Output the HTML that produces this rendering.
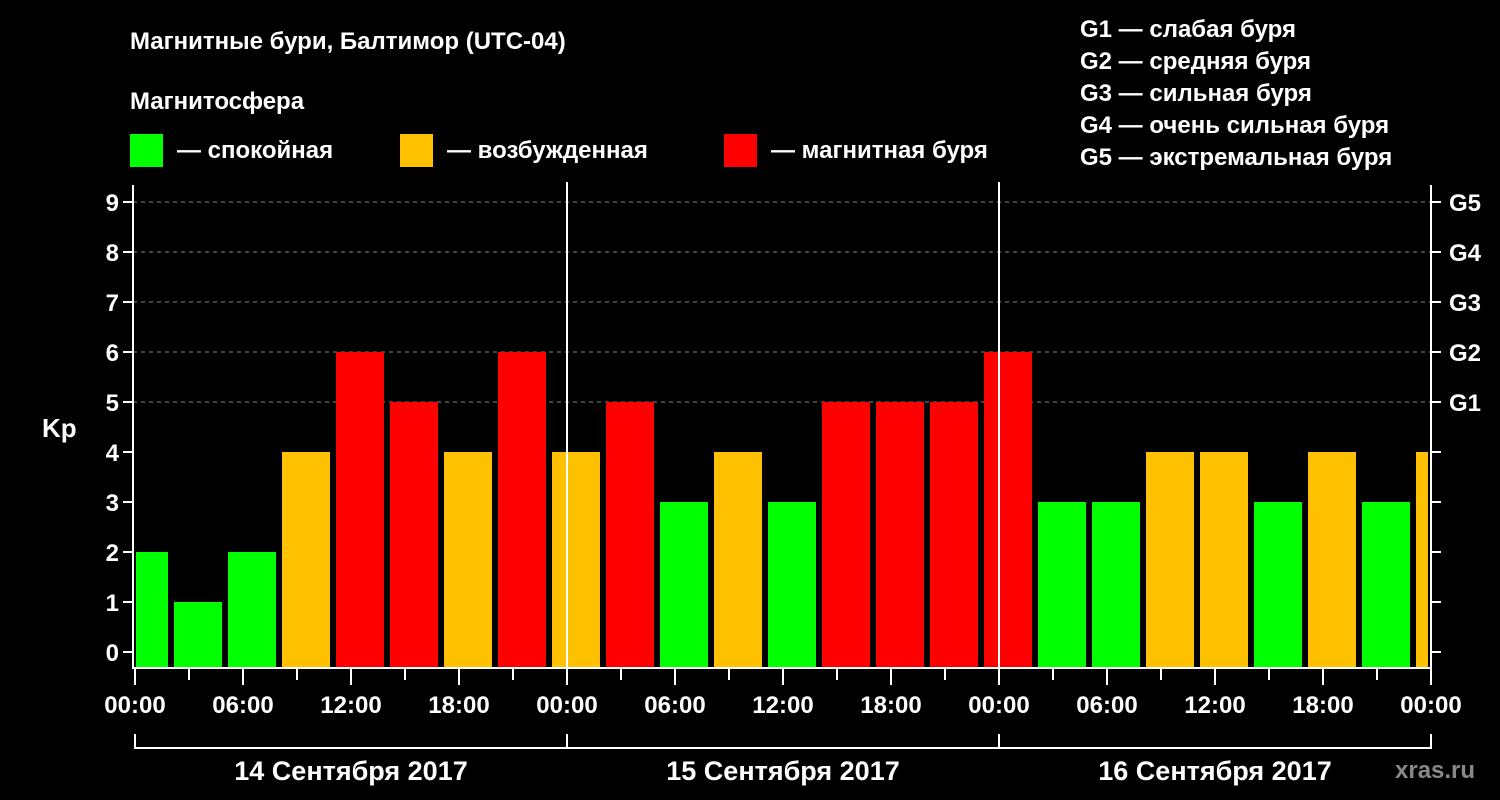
<!DOCTYPE html>
<html><head><meta charset="utf-8"><style>
body{margin:0;background:#000;}
svg{display:block;font-family:"Liberation Sans",sans-serif;font-weight:bold;}
</style></head><body>
<svg id="c" width="1500" height="800" viewBox="0 0 1500 800">
<rect width="1500" height="800" fill="#000"/>
<text x="130" y="49" fill="#fff" font-size="24">Магнитные бури, Балтимор (UTC-04)</text>
<text x="130" y="109" fill="#fff" font-size="24">Магнитосфера</text>
<g><rect x="130" y="134" width="33" height="33" fill="#00ff00"/><text x="177" y="158" fill="#fff" font-size="24">— спокойная</text></g>
<g><rect x="400" y="134" width="33" height="33" fill="#ffc000"/><text x="447" y="158" fill="#fff" font-size="24">— возбужденная</text></g>
<g><rect x="724" y="134" width="33" height="33" fill="#ff0000"/><text x="771" y="158" fill="#fff" font-size="24">— магнитная буря</text></g>
<g fill="#fff" font-size="24">
<text x="1080" y="37">G1 — слабая буря</text>
<text x="1080" y="69">G2 — средняя буря</text>
<text x="1080" y="101">G3 — сильная буря</text>
<text x="1080" y="133">G4 — очень сильная буря</text>
<text x="1080" y="165">G5 — экстремальная буря</text>
</g>
<text x="42" y="437" fill="#fff" font-size="26">Kp</text>
<text x="1395" y="778" fill="#888" font-size="24">xras.ru</text>
<g id="grid"></g><g id="bars"></g><g id="axes"></g>
</svg>
<script>
const kpValues=[2,1,2,4,6,5,4,6,4,5,3,4,3,5,5,5,6,3,3,4,4,3,4,3,4];
const yTicks=[0,1,2,3,4,5,6,7,8,9];
const gLabels=["G1","G2","G3","G4","G5"];
const gLevels=[5,6,7,8,9];
const timeLabels=["00:00","06:00","12:00","18:00","00:00","06:00","12:00","18:00","00:00","06:00","12:00","18:00","00:00"];
const dayLabels=["14 Сентября 2017","15 Сентября 2017","16 Сентября 2017"];
const NS="http://www.w3.org/2000/svg";
const X0=135,PXH=18,Y0=652,PXU=50,BOT=668,LEFT=133,RIGHT=1431;
const x=h=>X0+PXH*h, y=v=>Y0-PXU*v;
function mk(p,t,a){const e=document.createElementNS(NS,t);for(const k in a)e.setAttribute(k,a[k]);p.appendChild(e);return e;}
const grid=document.getElementById('grid'),bars=document.getElementById('bars'),ax=document.getElementById('axes');
gLevels.forEach(v=>{const l=mk(grid,'line',{x1:LEFT,x2:RIGHT,y1:y(v),y2:y(v),stroke:'#888','stroke-dasharray':'4,4','stroke-width':1});

});
kpValues.forEach((v,i)=>{const c=0.5+3*i;let x1=Math.max(x(c)-24,LEFT+3),x2=Math.min(x(c)+24,RIGHT-3);
const col=v>=5?'#ff0000':(v>=4?'#ffc000':'#00ff00');
const r=mk(bars,'rect',{x:x1,y:y(v),width:x2-x1,height:BOT-y(v),fill:col});

});
// axes
mk(ax,'line',{x1:LEFT,x2:LEFT,y1:185,y2:BOT+1,stroke:'#fff','stroke-width':2});
mk(ax,'line',{x1:RIGHT,x2:RIGHT,y1:185,y2:BOT+1,stroke:'#fff','stroke-width':2});
mk(ax,'line',{x1:LEFT,x2:RIGHT,y1:BOT,y2:BOT,stroke:'#fff','stroke-width':2});
[24,48].forEach(h=>{mk(ax,'line',{x1:x(h),x2:x(h),y1:182,y2:BOT,stroke:'#fff','stroke-width':2});});
yTicks.forEach(v=>{mk(ax,'line',{x1:LEFT-10,x2:LEFT,y1:y(v),y2:y(v),stroke:'#fff','stroke-width':2});
mk(ax,'line',{x1:RIGHT,x2:RIGHT+10,y1:y(v),y2:y(v),stroke:'#fff','stroke-width':2});
const t=mk(ax,'text',{x:LEFT-14,y:y(v)+9,fill:'#fff','font-size':24,'text-anchor':'end'});t.textContent=v;

});
gLevels.forEach((v,i)=>{const t=mk(ax,'text',{x:1449,y:y(v)+9,fill:'#fff','font-size':24});t.textContent=gLabels[i];

});
for(let h=0;h<=72;h+=3){mk(ax,'line',{x1:x(h),x2:x(h),y1:BOT,y2:BOT+(h%6==0?17:12),stroke:'#fff','stroke-width':2});}
timeLabels.forEach((s,i)=>{const t=mk(ax,'text',{x:x(6*i),y:713,fill:'#fff','font-size':24,'text-anchor':'middle'});t.textContent=s;

});
mk(ax,'polyline',{points:`${x(0)},734 ${x(0)},748 ${x(72)},748 ${x(72)},734`,fill:'none',stroke:'#fff','stroke-width':2});
[24,48].forEach(h=>mk(ax,'line',{x1:x(h),x2:x(h),y1:734,y2:748,stroke:'#fff','stroke-width':2}));
dayLabels.forEach((s,i)=>{const t=mk(ax,'text',{x:x(24*i+12),y:780,fill:'#fff','font-size':27,'text-anchor':'middle'});t.textContent=s;

});
</script>
</body></html>
